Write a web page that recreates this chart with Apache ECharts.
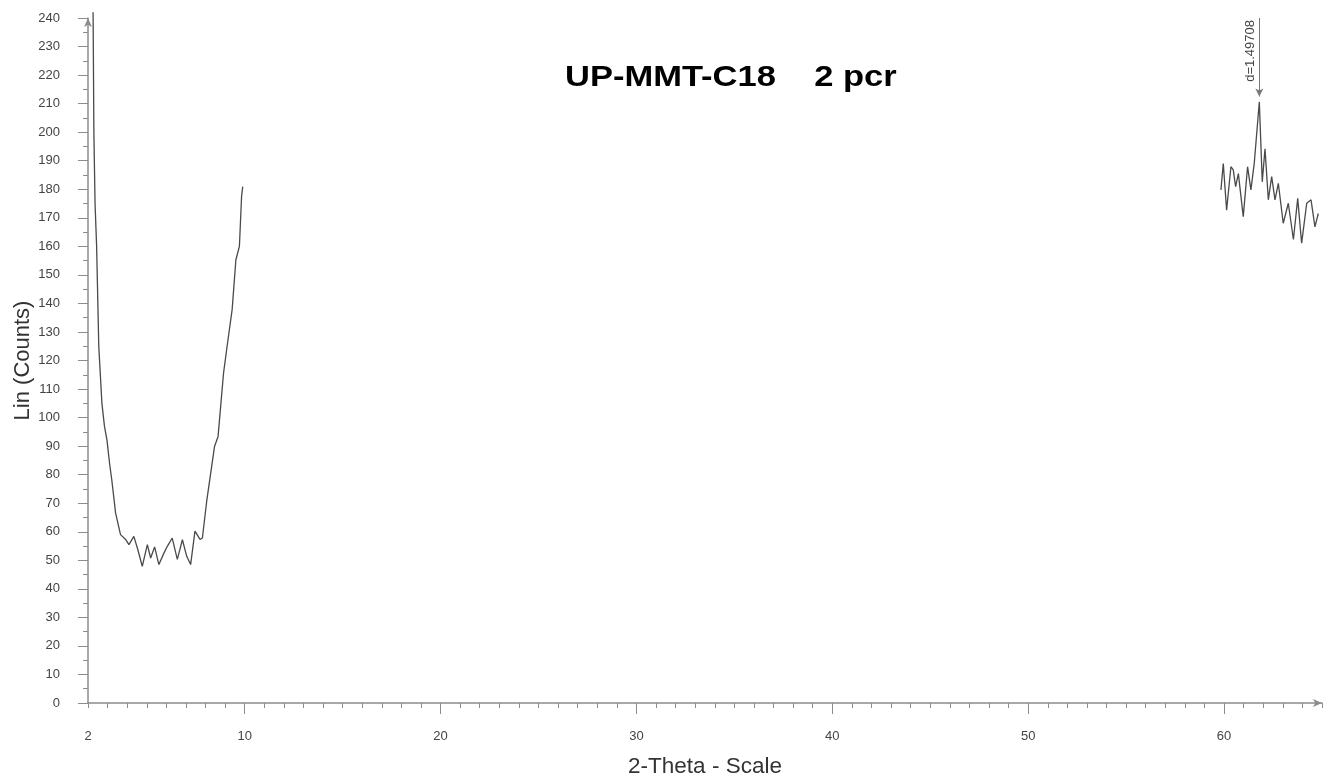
<!DOCTYPE html>
<html>
<head>
<meta charset="utf-8">
<script src="https://cdn.jsdelivr.net/npm/echarts@6/dist/echarts.min.js"></script>
<style>
  html, body { margin: 0; padding: 0; background: #fff; }
  #chart { width: 1334px; height: 779px; }
</style>
</head>
<body>
<div id="chart"></div>
<script>
// XRD scan of UP-MMT-C18 (2 pcr): low-angle region and the region around the d=1.497 reflection
const chartTitle = 'UP-MMT-C18    2 pcr';

const lowAngle = [2.26, 2.30, 2.36, 2.44, 2.55, 2.71, 2.84, 2.97, 3.10, 3.21,
                  3.41, 3.66, 3.92, 4.09, 4.34, 4.52, 4.77, 5.03, 5.20, 5.40,
                  5.62, 5.88, 6.05, 6.30, 6.56, 6.82, 7.04, 7.24, 7.46, 7.72,
                  7.84, 8.06, 8.46, 8.64, 8.92, 9.10, 9.36, 9.55, 9.73, 9.84, 9.90];
const lowCounts = [242, 200, 175, 160, 125, 105, 97, 92, 84, 78.4,
                   66.5, 59, 57.3, 55.5, 58.4, 54.3, 47.9, 55.5, 50.8, 54.7,
                   48.5, 52.6, 54.9, 57.8, 50.3, 57.2, 51.4, 48.5, 60.2, 57.3,
                   57.8, 70.7, 89.9, 93.4, 115.6, 124.9, 137.9, 155.3, 160, 177.4, 180.9];

const highAngle = [59.84, 59.96, 60.13, 60.35, 60.47, 60.59, 60.73, 60.98, 61.20, 61.37,
                   61.54, 61.80, 61.95, 62.09, 62.26, 62.43, 62.60, 62.77, 63.02, 63.28,
                   63.54, 63.76, 63.96, 64.22, 64.44, 64.64, 64.81];
const highCounts = [179.8, 189.0, 172.7, 187.9, 186.8, 180.9, 185.5, 170.4, 187.9, 179.8,
                    189.0, 210.6, 182.6, 194.2, 176.3, 184.4, 176.3, 182.1, 168.1, 175.1,
                    162.4, 176.8, 161.1, 175.1, 176.3, 166.8, 171.5];

// Peak marker
const peakAngle = 61.80;
const peakLabel = 'd=1.49708';
const markerRange = [212.5, 240];

// Axis ticks and labels
const xTickLabels = [2, 10, 20, 30, 40, 50, 60];
const xMajorTicks = [10, 20, 30, 40, 50, 60];
const yTickLabels = [0, 10, 20, 30, 40, 50, 60, 70, 80, 90, 100, 110, 120,
                     130, 140, 150, 160, 170, 180, 190, 200, 210, 220, 230, 240];

const zip = (xs, ys) => xs.map((x, i) => [x, ys[i]]);

const axisGray = '#8c8c8c';
const labelGray = '#444';
const fontFamily = '"Liberation Sans", Arial, sans-serif';

const chart = echarts.init(document.getElementById('chart'), null, { renderer: 'canvas' });

chart.setOption({
  animation: false,
  backgroundColor: '#ffffff',
  textStyle: { fontFamily: fontFamily },
  graphic: [
    {
      type: 'text',
      x: 565, y: 63,
      scaleX: 1.15,
      silent: true,
      style: {
        text: chartTitle,
        font: 'bold 30px "Liberation Sans", Arial, sans-serif',
        fill: '#000',
        textVerticalAlign: 'top'
      }
    }
  ],
  grid: { left: 88, right: 12, top: 18, bottom: 76, containLabel: false, outerBoundsMode: 'none' },
  xAxis: [
    {
      type: 'value', min: 2, max: 65, interval: 1,
      axisLine: { show: true, lineStyle: { color: axisGray, width: 1.5 },
                  symbol: ['none', 'arrow'], symbolSize: [6, 9] },
      axisTick: { show: true, length: 5, lineStyle: { color: axisGray } },
      axisLabel: { show: false },
      splitLine: { show: false }
    },
    {
      type: 'value', min: 2, max: 65, position: 'bottom',
      axisLine: { show: false },
      axisTick: { show: true, length: 11, customValues: xMajorTicks, lineStyle: { color: axisGray } },
      axisLabel: { customValues: xTickLabels, fontSize: 13, color: labelGray, margin: 27 },
      splitLine: { show: false },
      name: '2-Theta - Scale', nameLocation: 'middle', nameGap: 52, nameMoveOverlap: false,
      nameTextStyle: { fontSize: 22.5, color: '#333' }
    }
  ],
  yAxis: [
    {
      type: 'value', min: 0, max: 240, interval: 5,
      axisLine: { show: true, lineStyle: { color: axisGray, width: 1.5 },
                  symbol: ['none', 'arrow'], symbolSize: [6, 9] },
      axisTick: { show: true, length: 5, lineStyle: { color: axisGray } },
      axisLabel: { show: false },
      splitLine: { show: false }
    },
    {
      type: 'value', min: 0, max: 240, position: 'left',
      axisLine: { show: false },
      axisTick: { show: true, length: 10, customValues: yTickLabels, lineStyle: { color: axisGray } },
      axisLabel: { customValues: yTickLabels, fontSize: 13, color: labelGray, margin: 28 },
      splitLine: { show: false },
      name: 'Lin (Counts)', nameLocation: 'middle', nameGap: 54, nameMoveOverlap: false,
      nameTextStyle: { fontSize: 22, color: '#333' }
    }
  ],
  series: [
    {
      type: 'line', xAxisIndex: 0, yAxisIndex: 0,
      data: zip(lowAngle, lowCounts),
      showSymbol: false, clip: false,
      lineStyle: { color: '#4a4a4a', width: 1.3 }
    },
    {
      type: 'line', xAxisIndex: 0, yAxisIndex: 0,
      data: zip(highAngle, highCounts),
      showSymbol: false, clip: false,
      lineStyle: { color: '#4a4a4a', width: 1.3 },
      markLine: {
        silent: true,
        symbol: ['arrow', 'none'],
        symbolSize: [6, 8],
        lineStyle: { color: '#777', width: 1, type: 'solid' },
        label: { show: true, position: 'insideEndTop', formatter: peakLabel,
                 fontSize: 13, color: labelGray, distance: 2 },
        data: [[{ coord: [peakAngle, markerRange[0]] }, { coord: [peakAngle, markerRange[1]] }]]
      }
    }
  ]
});
</script>
</body>
</html>
